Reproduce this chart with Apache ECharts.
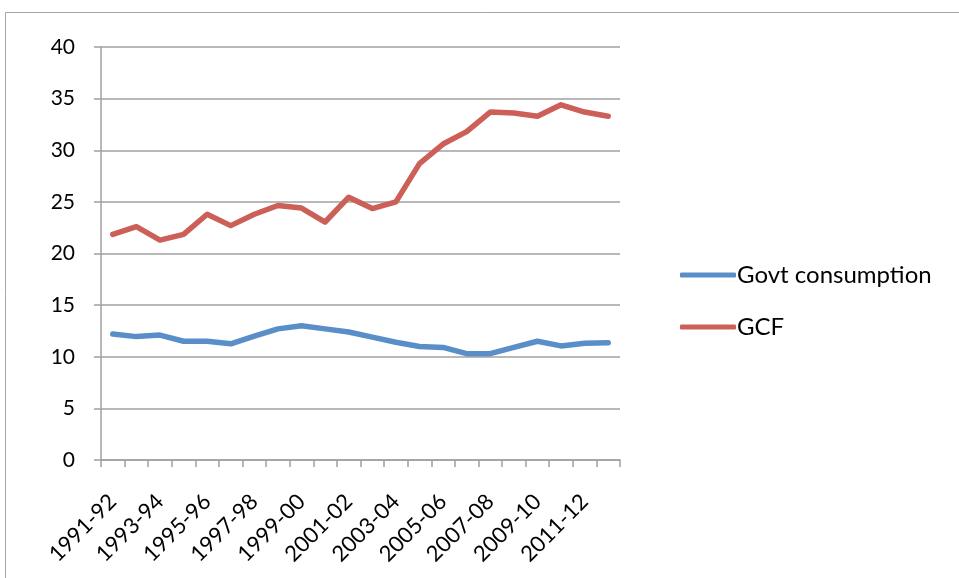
<!DOCTYPE html>
<html>
<head>
<meta charset="utf-8">
<script src="https://cdn.jsdelivr.net/npm/echarts@6/dist/echarts.min.js"></script>
<style>html,body{margin:0;padding:0;background:#fff;}#c{width:959px;height:578px;}</style>
</head>
<body>
<div id="c"></div>
<script>
const categories = ['1991-92','1992-93','1993-94','1994-95','1995-96','1996-97','1997-98','1998-99','1999-00','2000-01','2001-02','2002-03','2003-04','2004-05','2005-06','2006-07','2007-08','2008-09','2009-10','2010-11','2011-12','2012-13'];
const govtConsumption = [12.2,11.95,12.1,11.5,11.5,11.25,12.0,12.7,13.0,12.7,12.4,11.9,11.4,11.0,10.9,10.3,10.3,10.9,11.5,11.05,11.3,11.35];
const gcf = [21.85,22.6,21.3,21.85,23.8,22.7,23.8,24.65,24.4,23.05,25.45,24.35,25.0,28.7,30.6,31.8,33.7,33.6,33.3,34.4,33.7,33.3];
const yTicks = {min:0, max:40, interval:5};

const chart = echarts.init(document.getElementById('c'));
const FONT = 'Lato';
chart.setOption({
  animation:false,
  backgroundColor:'#fff',
  graphic:[{type:'rect', shape:{x:5.5,y:12.5,width:1200,height:800}, style:{fill:'none', stroke:'#a6a6a6', lineWidth:1}, silent:true}],
  grid:{left:101, right:339, top:47, bottom:118, containLabel:false},
  legend:{
    orient:'vertical', left:675, top:258,
    itemWidth:56, itemHeight:5, itemGap:28,
    icon:'roundRect',
    textStyle:{fontFamily:FONT, fontSize:24, color:'#000', padding:[0,0,0,-4]},
    data:['Govt consumption','GCF']
  },
  xAxis:{
    type:'category', data:categories, boundaryGap:true,
    axisLine:{lineStyle:{color:'#a0a0a0', width:1.5}},
    axisTick:{show:true, interval:0, length:7, lineStyle:{color:'#a0a0a0', width:1.5}},
    axisLabel:{interval:1, rotate:45, fontFamily:FONT, fontSize:22, color:'#000', margin:38},
    splitLine:{show:false}
  },
  yAxis:{
    type:'value', min:yTicks.min, max:yTicks.max, interval:yTicks.interval,
    axisLine:{show:true, lineStyle:{color:'#a0a0a0', width:1.5}},
    axisTick:{show:true, length:7, lineStyle:{color:'#a0a0a0', width:1.5}},
    axisLabel:{fontFamily:FONT, fontSize:21, color:'#000', margin:26},
    splitLine:{show:true, lineStyle:{color:'#a0a0a0', width:1.5}}
  },
  series:[
    {name:'Govt consumption', type:'line', data:govtConsumption, symbol:'none', color:'#5a8ec9',
     lineStyle:{width:5.5, color:'#5a8ec9', cap:'round', join:'round'}},
    {name:'GCF', type:'line', data:gcf, symbol:'none', color:'#cc5f58',
     lineStyle:{width:5.5, color:'#cc5f58', cap:'round', join:'round'}}
  ]
});
</script>
</body>
</html>
